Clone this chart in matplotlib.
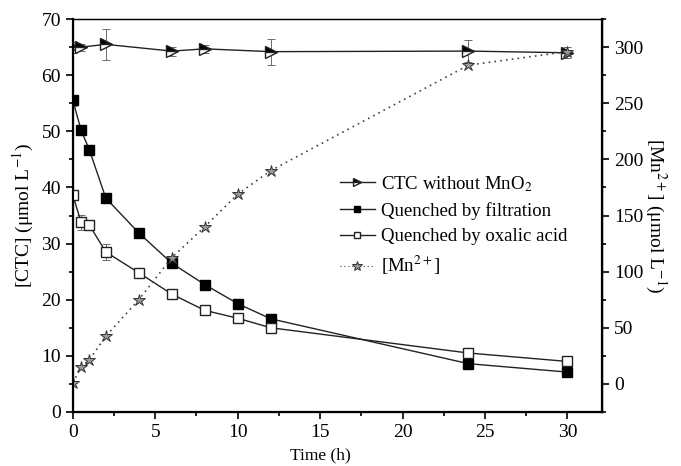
import matplotlib
matplotlib.use("Agg")
import matplotlib.pyplot as plt
from matplotlib.ticker import MultipleLocator
from matplotlib.lines import Line2D

plt.rcParams['font.family'] = ['Liberation Serif', 'DejaVu Serif']
plt.rcParams['mathtext.fontset'] = 'stix'

# data
t_ctc = [0, 0.5, 2, 6, 8, 12, 24, 30]
ctc_no_mno2 = [65.0, 65.0, 65.5, 64.3, 64.7, 64.2, 64.3, 64.0]
ctc_err = [1.0, 0.6, 2.7, 0.8, 0.7, 2.3, 2.0, 1.0]

t_q = [0, 0.5, 1, 2, 4, 6, 8, 10, 12, 24, 30]
filtration = [55.5, 50.2, 46.7, 38.1, 31.9, 26.5, 22.7, 19.3, 16.6, 8.6, 7.1]
filt_err = [1.0, 0.5, 0.4, 0.4, 0.3, 0.4, 0.3, 0.3, 0.3, 0.3, 0.3]
oxalic = [38.6, 33.8, 33.3, 28.5, 24.8, 21.0, 18.1, 16.7, 15.0, 10.5, 9.0]
oxal_err = [0.5, 1.3, 0.6, 1.5, 0.3, 0.3, 0.3, 0.3, 0.3, 0.3, 0.3]

t_mn = [0, 0.5, 1, 2, 4, 6, 8, 10, 12, 24, 30]
mn = [1, 15, 21.5, 42.5, 75, 112.5, 140, 169, 190, 284, 296]

xticks = [0, 5, 10, 15, 20, 25, 30]
labels = ['CTC without MnO$_2$', 'Quenched by filtration',
          'Quenched by oxalic acid', '[Mn$^{2+}$]']

fig = plt.figure(figsize=(6.81, 4.66), dpi=100)
ax = fig.add_axes([0.107, 0.116, 0.777, 0.843])
ax2 = ax.twinx()

lw = 1.0
ctc_style = dict(color='#222222', lw=lw, marker='>', ms=8, fillstyle='top',
                 mfc='black', mfcalt='white', mec='#222222')
filt_style = dict(color='#222222', lw=lw, marker='s', ms=7, mfc='black', mec='black')
oxal_style = dict(color='#222222', lw=lw, marker='s', ms=7, mfc='white', mec='#222222')
mn_style = dict(color='#444444', lw=1.2, ls=(0, (1, 2.5)), marker='*', ms=9,
                mfc='#9a9a9a', mec='#333333', mew=0.7)
eb = dict(capsize=3, elinewidth=0.6, capthick=0.6, ecolor='#555555', zorder=3)

ax.errorbar(t_ctc, ctc_no_mno2, yerr=ctc_err, **ctc_style, **eb)
ax.errorbar(t_q, filtration, yerr=filt_err, **filt_style, **eb)
ax.errorbar(t_q, oxalic, yerr=oxal_err, **oxal_style, **eb)
ax2.plot(t_mn, mn, **mn_style)

ax.set_xlim(0, 32.1)
ax.set_ylim(0, 70)
ax2.set_ylim(-25, 325)
ax.set_xticks(xticks)
ax.xaxis.set_minor_locator(MultipleLocator(2.5))
ax.yaxis.set_major_locator(MultipleLocator(10))
ax.yaxis.set_minor_locator(MultipleLocator(5))
ax2.set_yticks([0, 50, 100, 150, 200, 250, 300])
ax2.yaxis.set_minor_locator(MultipleLocator(25))

for a in (ax, ax2):
    a.tick_params(which='major', length=5, width=1.2, labelsize=14, direction='out')
    a.tick_params(which='minor', length=3, width=1.2, direction='out')
for s in ax.spines.values():
    s.set_linewidth(1.0)
ax.spines['left'].set_linewidth(1.6)
ax.spines['bottom'].set_linewidth(1.6)
ax2.spines['right'].set_linewidth(1.6)
ax.tick_params(top=False)

ax.set_xlabel('Time (h)', fontsize=12.5, labelpad=1)
ax.xaxis.set_label_coords(15 / 32.1, -0.09)
ax.set_ylabel('[CTC] (μmol L$^{-1}$)', fontsize=14, labelpad=4)
ax2.set_ylabel('[Mn$^{2+}$] (μmol L$^{-1}$)', fontsize=14, rotation=-90, labelpad=18)

handles = [Line2D([], [], **{**ctc_style, 'ms': 6}),
           Line2D([], [], **{**filt_style, 'ms': 5}),
           Line2D([], [], **{**oxal_style, 'ms': 5}),
           Line2D([], [], **{**mn_style, 'ms': 7, 'lw': 0.8})]
ax.legend(handles, labels, loc='upper left', bbox_to_anchor=(0.49, 0.625),
          frameon=False, fontsize=13.5, handlelength=1.9, handletextpad=0.3,
          labelspacing=0.45, borderaxespad=0)

fig.savefig('out.png', dpi=100)
